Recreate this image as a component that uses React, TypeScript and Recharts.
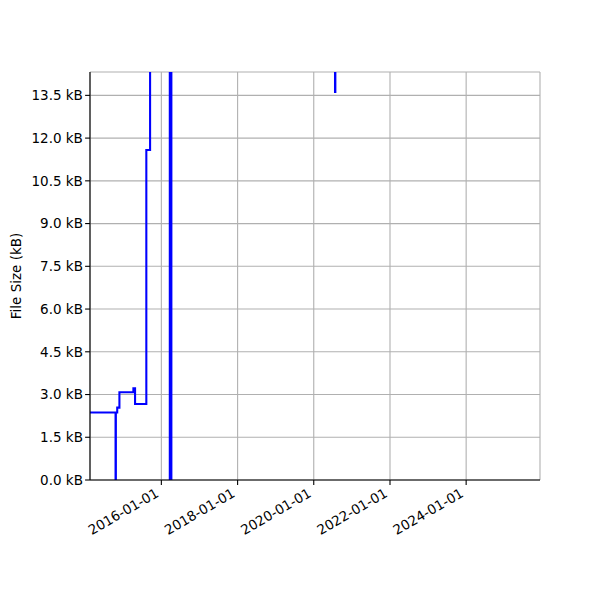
import React from 'react';
import { LineChart, Line, XAxis, YAxis, CartesianGrid } from 'recharts';

const dates = [
  '2014-02-16', '2014-10-19', '2014-10-22', '2014-11-04', '2014-11-25',
  '2015-04-08', '2015-04-24', '2015-08-10', '2015-09-15', '2016-03-22',
  '2016-04-06', '2020-07-23', '2020-07-26', '2025-05-26',
];
const sizes = [2.37, 0, 2.37, 2.54, 3.08, 3.22, 2.67, 11.58, 18, 0, 18, 13.62, 18, 18];

const xTickDates = ['2016-01-01', '2018-01-01', '2020-01-01', '2022-01-01', '2024-01-01'];
const yTicks = [0, 1.5, 3, 4.5, 6, 7.5, 9, 10.5, 12, 13.5];
const xDomainDates = ['2014-02-16', '2025-12-09'];
const yMax = 14.32;

const ts = (d: string) => Date.parse(d + 'T00:00:00Z');
const data = dates.map((d, i) => ({ t: ts(d), v: sizes[i] }));
const xTicks = xTickDates.map(ts);
const xDomain = xDomainDates.map(ts);

const FONT = 'DejaVu Sans';
const FS = 13.5;
const AX = 1.1;

const fmtDate = (t: number) => new Date(t).toISOString().slice(0, 10);

const XTick = (props: any) => {
  const { x, payload } = props;
  return (
    <g transform={`translate(${x - 1.6},${496})`}>
      <text
        x={0}
        y={0}
        textAnchor="end"
        transform="rotate(-30)"
        fontFamily={FONT}
        fontSize={FS}
        fill="#000"
      >
        {fmtDate(payload.value)}
      </text>
    </g>
  );
};

export default function App() {
  return (
    <div style={{ position: 'absolute', left: 0, top: 0, background: '#fff' }}>
      <LineChart
        width={600}
        height={600}
        data={data}
        margin={{ top: 72, right: 60, left: 0, bottom: 0 }}
      >
        <CartesianGrid stroke="#b0b0b0" strokeWidth={AX} />
        <XAxis
          dataKey="t"
          type="number"
          domain={xDomain}
          allowDataOverflow
          ticks={xTicks}
          interval={0}
          height={120}
          tickSize={4.9}
          tickLine={{ stroke: '#000', strokeWidth: AX }}
          axisLine={{ stroke: '#000', strokeWidth: AX }}
          tick={<XTick />}
        />
        <XAxis
          xAxisId="top"
          orientation="top"
          dataKey="t"
          type="number"
          domain={xDomain}
          allowDataOverflow
          height={0}
          tick={false}
          tickLine={false}
          axisLine={{ stroke: '#000', strokeWidth: AX }}
        />
        <YAxis
          type="number"
          domain={[0, yMax]}
          allowDataOverflow
          ticks={yTicks}
          interval={0}
          width={90}
          tickSize={4.9}
          tickMargin={2.2}
          tickFormatter={(v: number) => `${v.toFixed(1)} kB`}
          tick={{ fill: '#000', fontFamily: FONT, fontSize: FS }}
          tickLine={{ stroke: '#000', strokeWidth: AX }}
          axisLine={{ stroke: '#000', strokeWidth: AX }}
          label={{
            content: () => (
              <text
                x={21}
                y={276}
                transform="rotate(-90,21,276)"
                textAnchor="middle"
                fontFamily={FONT}
                fontSize={FS}
                fill="#000"
              >
                File Size (kB)
              </text>
            ),
          }}
        />
        <YAxis
          yAxisId="right"
          orientation="right"
          type="number"
          domain={[0, yMax]}
          width={0}
          tick={false}
          tickLine={false}
          axisLine={{ stroke: '#000', strokeWidth: AX }}
        />
        <Line
          type="stepAfter"
          dataKey="v"
          stroke="#0000ff"
          strokeWidth={2.08}
          dot={false}
          activeDot={false}
          isAnimationActive={false}
        />
      </LineChart>
    </div>
  );
}
